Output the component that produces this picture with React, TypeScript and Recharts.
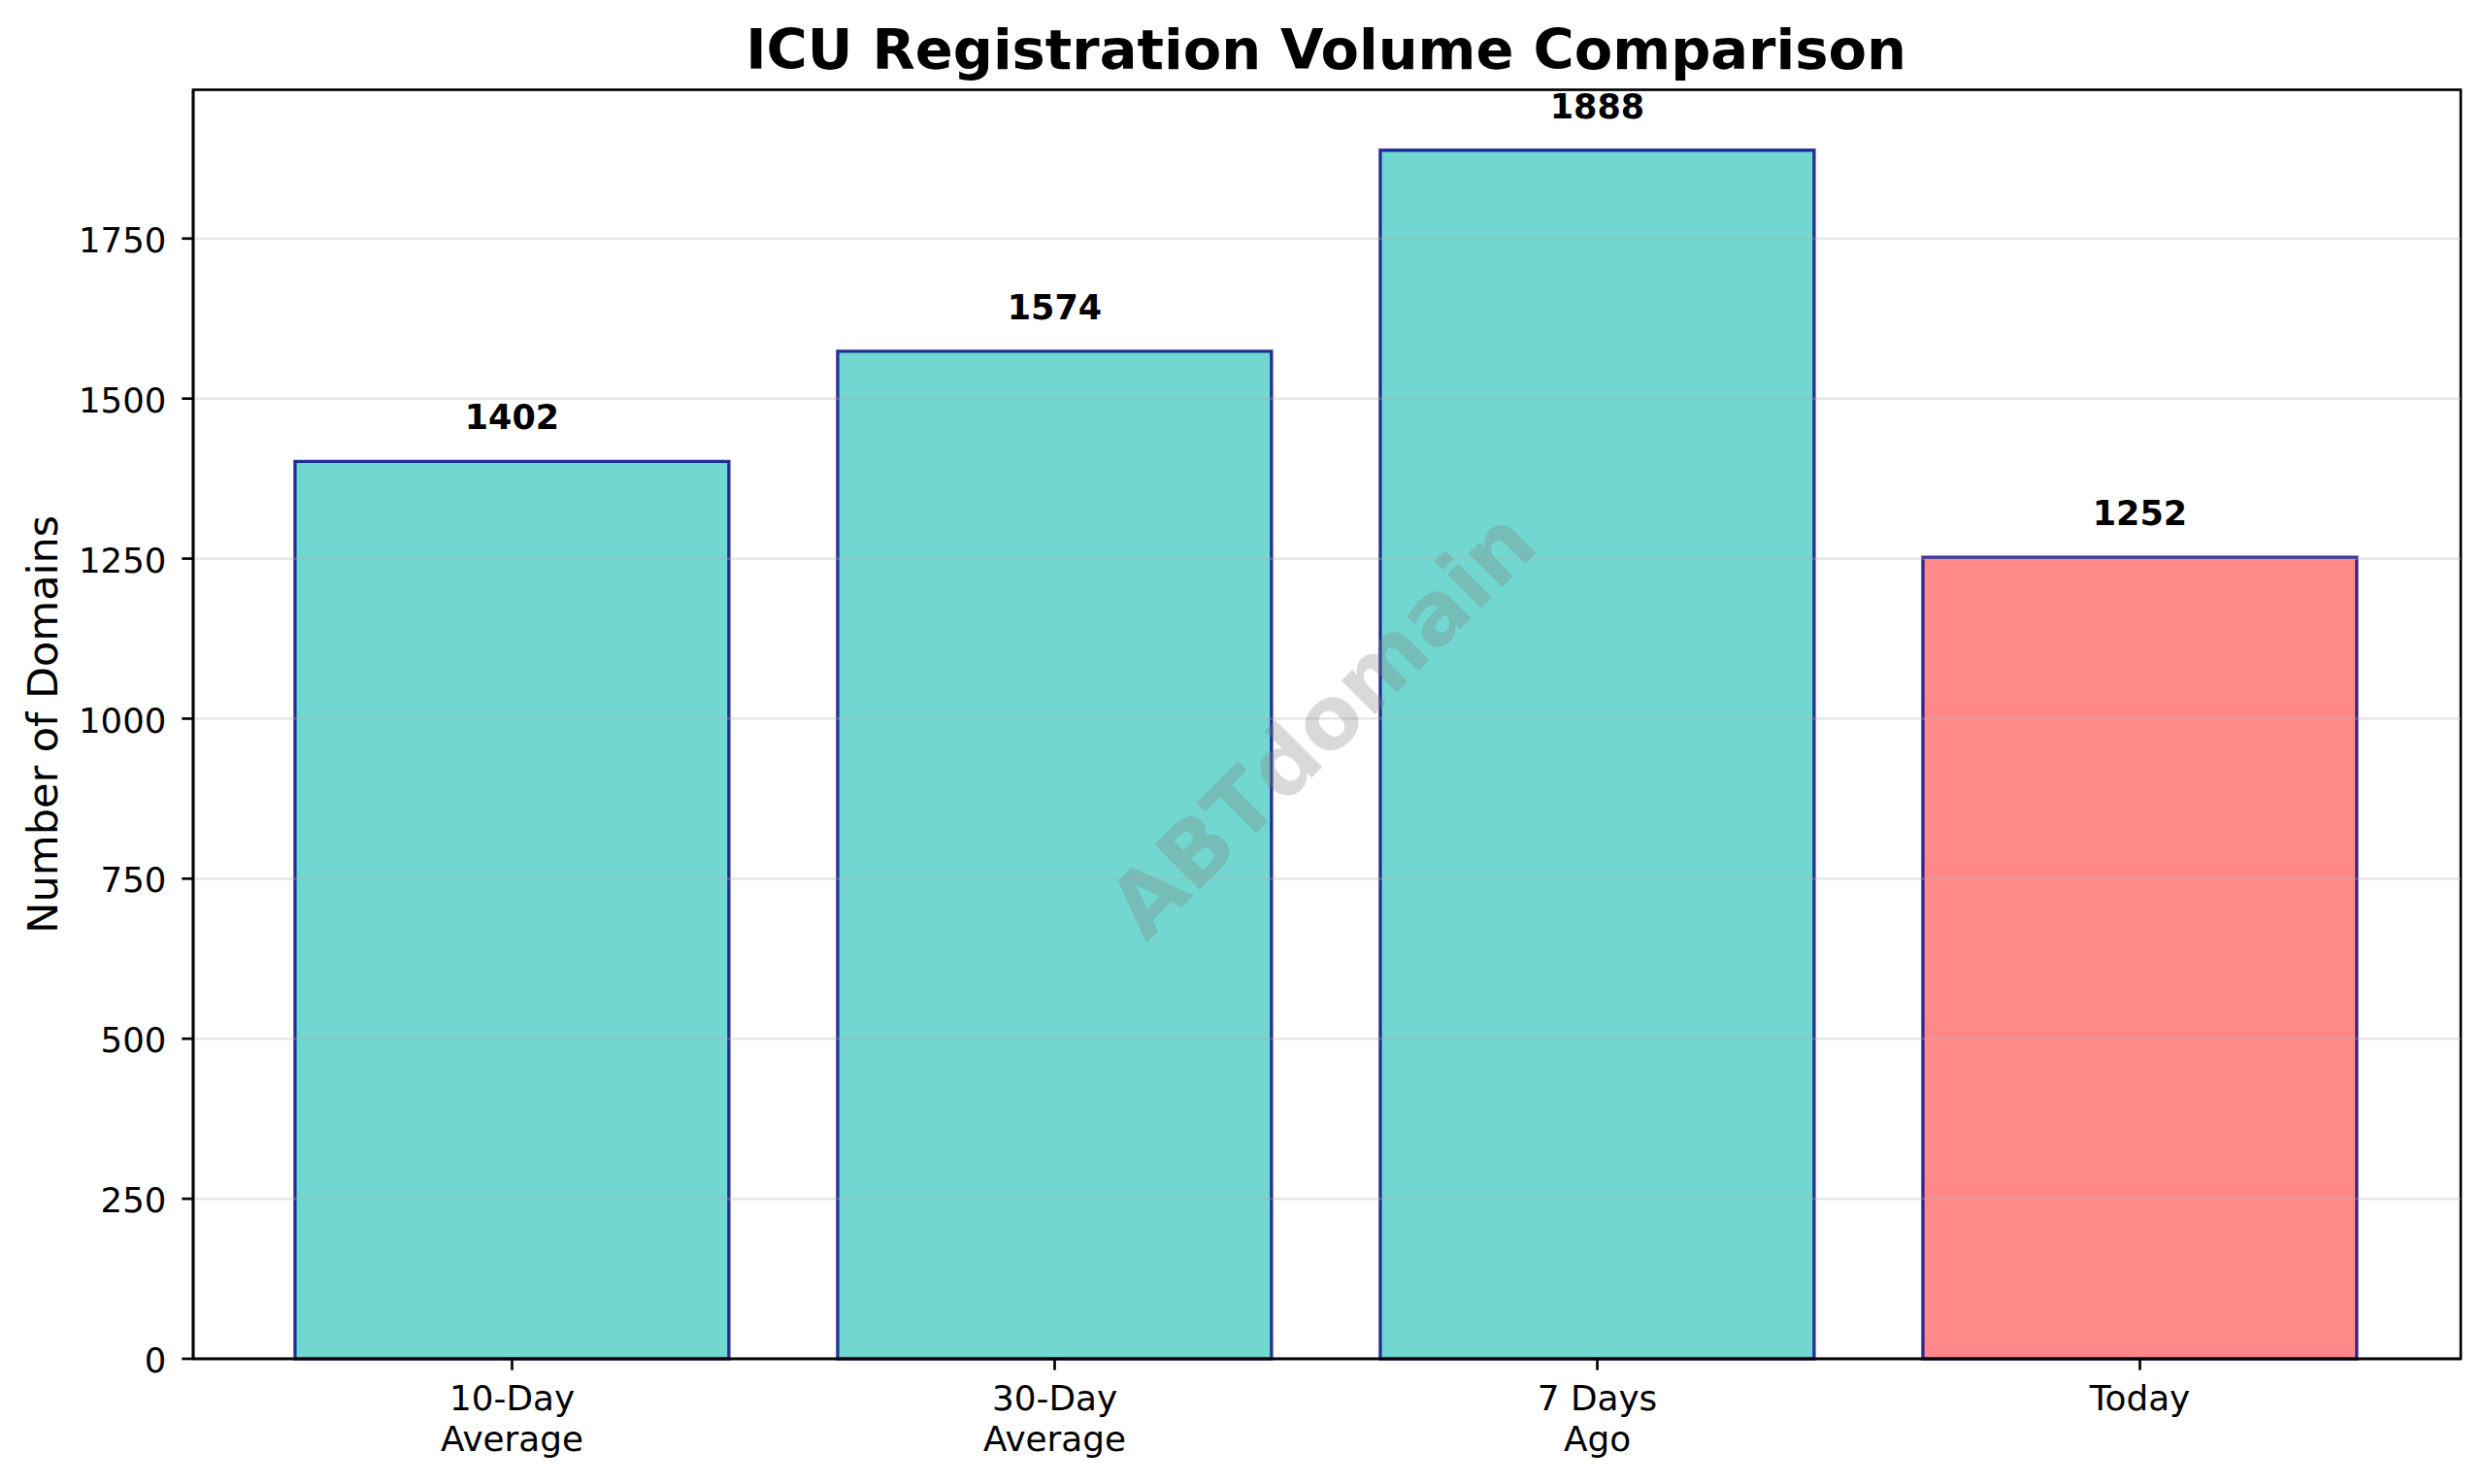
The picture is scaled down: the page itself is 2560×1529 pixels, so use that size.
import { Bar, BarChart, Cell, LabelList, ReferenceLine, XAxis, YAxis } from "recharts";

const CATEGORIES = ["10-Day\nAverage", "30-Day\nAverage", "7 Days\nAgo", "Today"];
const VOLUMES = [1402, 1574, 1888, 1252];
const BAR_COLORS = ["#4ECDC4", "#4ECDC4", "#4ECDC4", "#FF6B6B"];
const Y_TICKS = [0, 250, 500, 750, 1000, 1250, 1500, 1750];
const Y_MAX = 1982.4;
const TITLE = "ICU Registration Volume Comparison";
const Y_LABEL = "Number of Domains";
const WATERMARK = "ABTdomain";

const FONT = "'DejaVu Sans', sans-serif";
const WIDTH = 2560;
const HEIGHT = 1529;

const rows = CATEGORIES.map((name, i) => ({ name, value: VOLUMES[i] }));

// matplotlib-style two line tick: split on the newline
function CategoryTick({ x, y, payload }: any) {
  const lines = String(payload.value).split("\n");
  return (
    <text x={x} y={y} textAnchor="middle" fontFamily={FONT} fontSize={35.8} fill="#000">
      {lines.map((line, i) => (
        <tspan key={line} x={x} dy={i === 0 ? 39.5 : 42}>
          {line}
        </tspan>
      ))}
    </text>
  );
}

export default function App() {
  return (
    <div style={{ position: "absolute", left: 0, top: 0, width: WIDTH, height: HEIGHT, background: "#fff" }}>
      <BarChart
        width={WIDTH}
        height={HEIGHT}
        data={rows}
        barCategoryGap="10%"
        margin={{ top: 92.5, right: 25, bottom: 0, left: 0 }}
      >
        <XAxis
          dataKey="name"
          height={129}
          padding={{ left: 49, right: 51 }}
          interval={0}
          tick={<CategoryTick />}
          tickSize={11.67}
          axisLine={{ stroke: "#000", strokeWidth: 2.67 }}
          tickLine={{ stroke: "#000", strokeWidth: 2.67 }}
        />
        <YAxis
          width={199}
          domain={[0, Y_MAX]}
          ticks={Y_TICKS}
          interval={0}
          tickSize={11.67}
          tickMargin={16}
          tick={{ fontFamily: FONT, fontSize: 35.5, fill: "#000", dy: 1.5 }}
          axisLine={{ stroke: "#000", strokeWidth: 2.67 }}
          tickLine={{ stroke: "#000", strokeWidth: 2.67 }}
          label={{
            value: Y_LABEL,
            angle: -90,
            position: "insideLeft",
            offset: 0,
            dx: 44,
            style: { fontFamily: FONT, fontSize: 43, fill: "#000", textAnchor: "middle" },
          }}
        />
        <Bar dataKey="value" isAnimationActive={false} fillOpacity={0.8} stroke="#000080" strokeOpacity={0.8} strokeWidth={3.33}>
          {rows.map((row, i) => (
            <Cell key={row.name} fill={BAR_COLORS[i]} />
          ))}
          <LabelList
            dataKey="value"
            position="top"
            offset={33}
            style={{ fontFamily: FONT, fontSize: 35, fontWeight: 700, fill: "#000" }}
          />
        </Bar>
        {/* gridlines sit over the bars in the original */}
        {Y_TICKS.slice(1).map((t) => (
          <ReferenceLine key={t} y={t} stroke="#b0b0b0" strokeOpacity={0.3} strokeWidth={2.67} />
        ))}
        <rect x={199} y={92.5} width={2336} height={1307.5} fill="none" stroke="#000" strokeWidth={2.67} />
        <text x={1366} y={71} textAnchor="middle" fontFamily={FONT} fontSize={57.5} fontWeight={700} fill="#000">
          {TITLE}
        </text>
      </BarChart>
      <svg width={WIDTH} height={HEIGHT} style={{ position: "absolute", left: 0, top: 0, pointerEvents: "none" }}>
        <text
          x={1362}
          y={746}
          textAnchor="middle"
          dominantBaseline="central"
          fontFamily={FONT}
          fontSize={90}
          fontWeight={700}
          fill="#808080"
          fillOpacity={0.3}
          transform="rotate(-45 1362 746)"
        >
          {WATERMARK}
        </text>
      </svg>
    </div>
  );
}
